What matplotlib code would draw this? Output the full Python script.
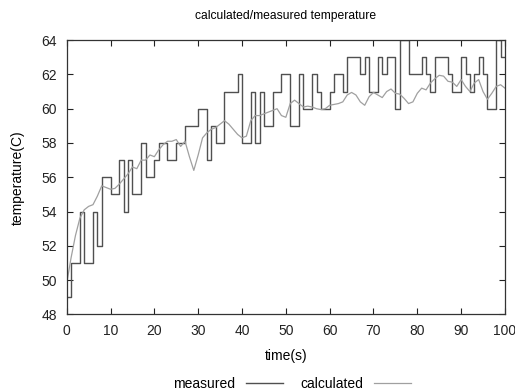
import numpy as np
import matplotlib.pyplot as plt

plt.rcParams['font.family'] = ['Liberation Sans', 'DejaVu Sans']

# time in seconds
time_s = list(range(0, 101))

# measured temperature (integer sensor readings)
measured = [49, 51, 51, 54, 51, 51, 54, 52, 56, 56,
            55, 55, 57, 54, 57, 55, 55, 58, 56, 56,
            57, 58, 58, 57, 57, 58, 58, 59, 59, 59,
            60, 60, 57, 59, 58, 58, 61, 61, 61, 62,
            58, 58, 61, 58, 61, 59, 59, 61, 61, 62,
            62, 59, 59, 62, 60, 60, 62, 61, 60, 60,
            61, 62, 62, 61, 63, 63, 63, 62, 63, 61,
            61, 63, 62, 63, 63, 60, 64, 64, 62, 62,
            62, 63, 62, 61, 63, 63, 63, 62, 61, 61,
            63, 62, 61, 62, 63, 62, 60, 60, 64, 63,
            63]

# calculated temperature (model output)
calculated = [49.8, 51.3, 52.6, 53.6, 54.1, 54.3, 54.4, 54.9, 55.5, 55.4,
              55.3, 55.35, 55.6, 55.9, 56.2, 56.6, 56.5, 57.0, 57.0, 57.3,
              57.2, 57.6, 57.9, 58.1, 58.1, 58.2, 57.8, 58.1, 57.2, 56.4,
              57.3, 58.3, 58.6, 58.8, 58.9, 59.1, 59.3, 59.1, 58.8, 58.5,
              58.3, 58.4, 59.3, 59.6, 59.6, 59.7, 59.8, 59.9, 60.0, 59.6,
              59.5, 60.3, 60.5, 60.3, 60.1, 60.15, 60.1, 60.0, 59.95, 60.0,
              60.2, 60.25, 60.3, 60.4, 60.8, 60.95, 60.8, 60.4, 60.2, 60.7,
              60.95, 60.8, 60.65, 61.0, 61.15, 60.9, 60.85, 60.6, 60.3, 60.4,
              60.9, 61.2, 61.1, 61.5, 61.75, 61.95, 61.9, 61.6, 61.55, 61.3,
              61.7, 61.3, 61.0, 61.5, 61.7, 61.0, 60.55, 60.9, 61.3, 61.4,
              61.2]

fig = plt.figure(figsize=(5.15, 3.9), dpi=100)
ax = fig.add_axes([0.1295, 0.194, 0.851, 0.703])

# readings are held until the next sample
ax.plot(time_s, measured, color='#505050', lw=1.0, drawstyle='steps-post', label='measured')
ax.plot(time_s, calculated, color='#a0a0a0', lw=0.9, label='calculated')

ax.set_xlim(0, 100)
ax.set_ylim(48, 64)
ax.set_xticks(np.arange(0, 101, 10))
ax.set_yticks(np.arange(48, 65, 2))
ax.tick_params(direction='in', top=True, right=True, length=4, width=0.8,
               labelsize=10, colors='#222222', pad=7)
for sp in ax.spines.values():
    sp.set_color('#333333')
    sp.set_linewidth(0.9)

ax.set_title('calculated/measured temperature', fontsize=8.7, pad=15)
ax.set_xlabel('time(s)', fontsize=10, labelpad=8)
ax.set_ylabel('temperature(C)', fontsize=10, labelpad=12)

fig.legend(loc='lower center', bbox_to_anchor=(0.567, -0.035), ncol=2, frameon=False,
           markerfirst=False, fontsize=10, handlelength=2.7, columnspacing=1.2)

fig.savefig('out.png', dpi=100)
